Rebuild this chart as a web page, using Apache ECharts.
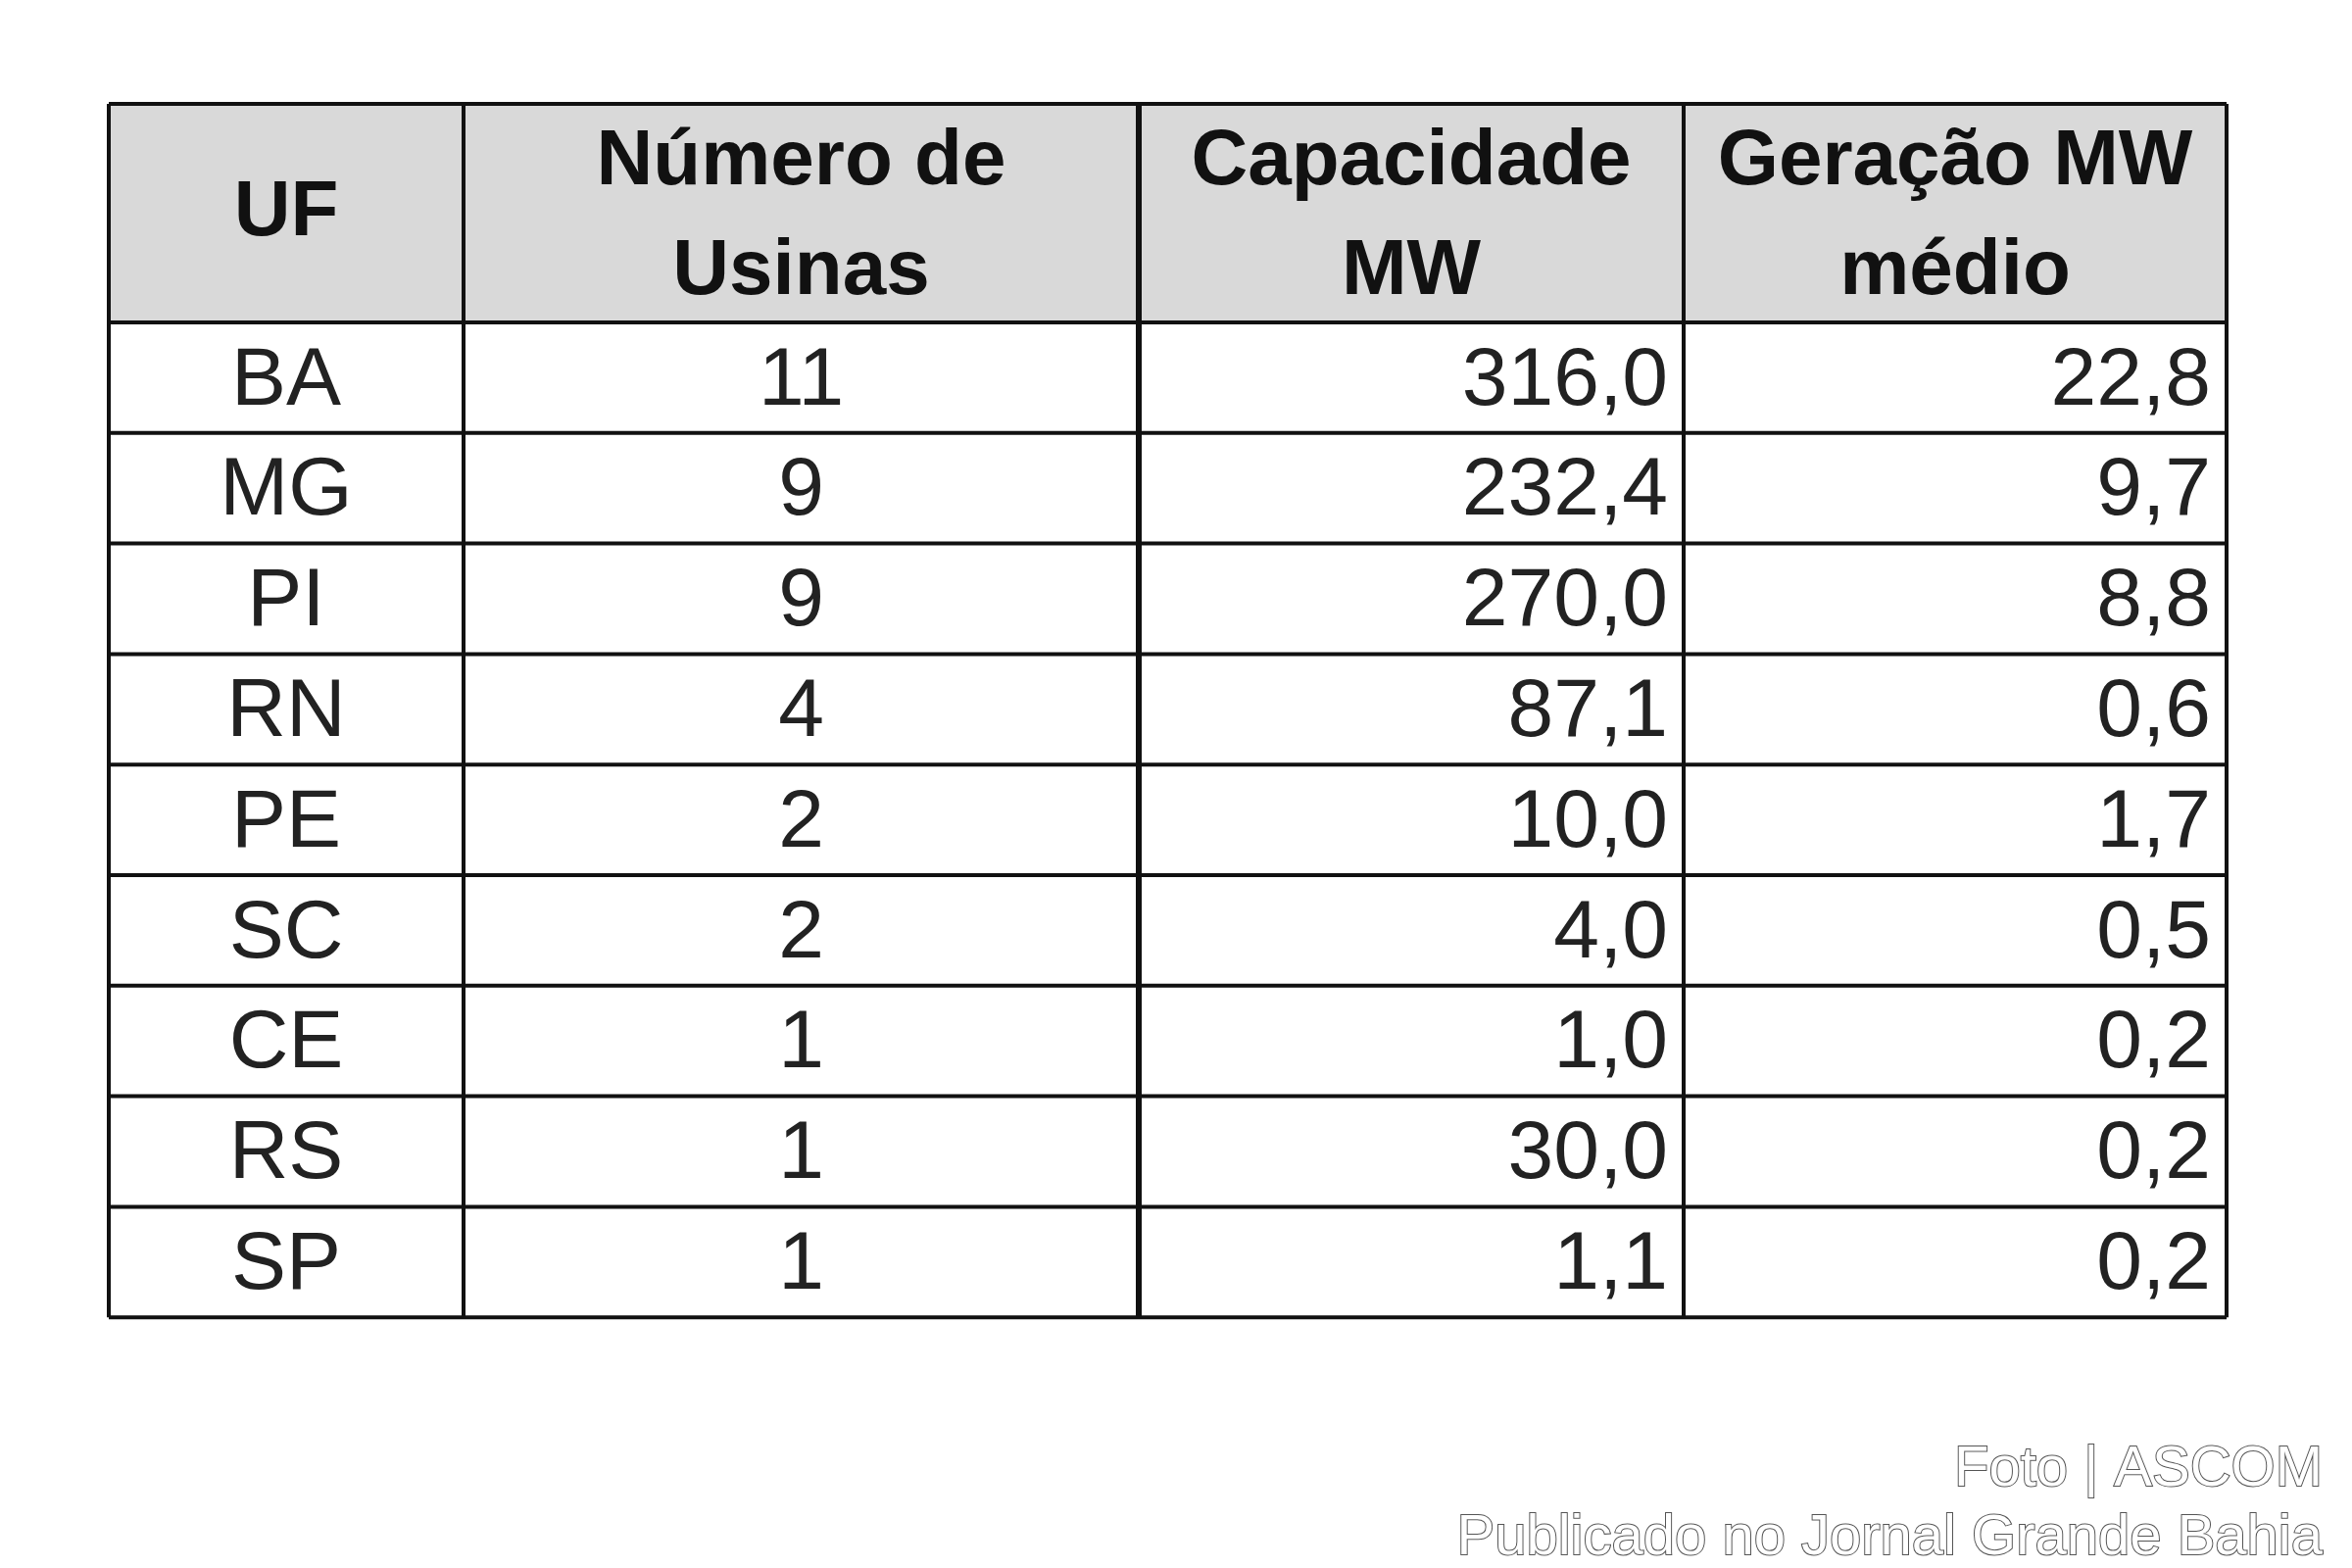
<!DOCTYPE html>
<html>
<head>
<meta charset="utf-8">
<script src="https://cdn.jsdelivr.net/npm/echarts@6/dist/echarts.min.js"></script>
<style>html,body{margin:0;padding:0;background:#fff}#chart{width:2400px;height:1600px}</style>
</head>
<body>
<div id="chart"></div>
<script>
// dados da tabela
var headers = [['UF'], ['Número de', 'Usinas'], ['Capacidade', 'MW'], ['Geração MW', 'médio']];
var ufs = ['BA', 'MG', 'PI', 'RN', 'PE', 'SC', 'CE', 'RS', 'SP'];
var usinas = ['11', '9', '9', '4', '2', '2', '1', '1', '1'];
var capacidade = ['316,0', '232,4', '270,0', '87,1', '10,0', '4,0', '1,0', '30,0', '1,1'];
var geracao = ['22,8', '9,7', '8,8', '0,6', '1,7', '0,5', '0,2', '0,2', '0,2'];
var credits = ['Foto | ASCOM', 'Publicado no Jornal Grande Bahia'];

var colX = [111, 473, 1162, 1718, 2272];
var top0 = 106, headBottom = 329, rowH = 112.8;
var font = '"Liberation Sans", Arial, sans-serif';

var els = [];
// fundo do cabeçalho
els.push({type: 'rect', shape: {x: colX[0], y: top0, width: colX[4] - colX[0], height: headBottom - top0},
  style: {fill: '#d9d9d9'}});
// textos do cabeçalho
headers.forEach(function (h, c) {
  var cx = (colX[c] + colX[c + 1]) / 2;
  h.forEach(function (line, i) {
    var cy = h.length === 1 ? (top0 + headBottom) / 2 : top0 + 60 + i * 112;
    els.push({type: 'text', x: cx, y: cy, style: {text: line, fill: '#111', font: 'bold 80px ' + font,
      align: 'center', verticalAlign: 'middle'}});
  });
});
// linhas do corpo
var cols = [ufs, usinas, capacidade, geracao];
ufs.forEach(function (u, r) {
  var cy = headBottom + rowH * (r + 0.5) + 4;
  cols.forEach(function (arr, c) {
    var right = c >= 2;
    els.push({type: 'text', x: right ? colX[c + 1] - 16 : (colX[c] + colX[c + 1]) / 2, y: cy,
      style: {text: arr[r], fill: '#222', font: '84px ' + font, align: right ? 'right' : 'center', verticalAlign: 'middle'}});
  });
});
// grade
var bottom = headBottom + rowH * ufs.length;
els.push({type: 'line', shape: {x1: colX[0], y1: top0, x2: colX[4], y2: top0}, style: {stroke: '#111', lineWidth: 4}});
els.push({type: 'line', shape: {x1: colX[0], y1: headBottom, x2: colX[4], y2: headBottom}, style: {stroke: '#111', lineWidth: 4}});
for (var r = 1; r <= ufs.length; r++) {
  var y = headBottom + rowH * r;
  els.push({type: 'line', shape: {x1: colX[0], y1: y, x2: colX[4], y2: y}, style: {stroke: '#111', lineWidth: 4}});
}
colX.forEach(function (x, i) {
  els.push({type: 'line', shape: {x1: x, y1: top0, x2: x, y2: bottom}, style: {stroke: '#111', lineWidth: i === 2 ? 6 : 4}});
});
// créditos
credits.forEach(function (t, i) {
  els.push({type: 'text', x: 2370, y: 1500 + i * 70, style: {text: t, fill: '#fff', stroke: '#555', lineWidth: 2,
    font: '58px ' + font, align: 'right', verticalAlign: 'middle'}});
});

var chart = echarts.init(document.getElementById('chart'));
chart.setOption({backgroundColor: '#fff', animation: false, graphic: {elements: els}});
</script>
</body>
</html>
